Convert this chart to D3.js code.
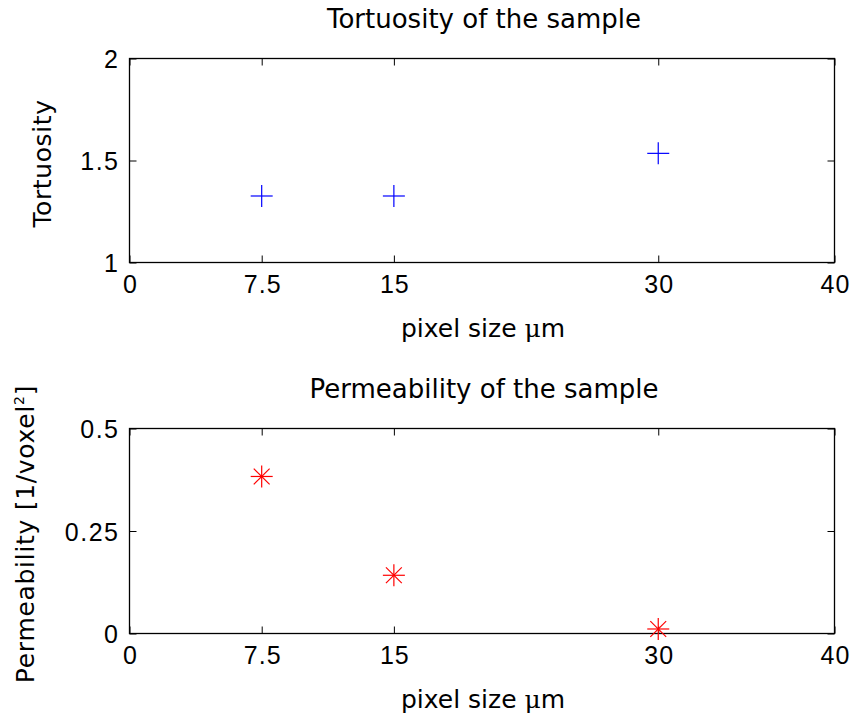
<!DOCTYPE html>
<html><head><meta charset="utf-8">
<script src="https://cdn.jsdelivr.net/npm/d3@7"></script>
<style>body{margin:0;background:#fff}svg{display:block}text{fill:#000}</style>
</head><body>
<script>
const pixelSize = [7.5, 15, 30];
const tortuosity = [1.326, 1.326, 1.535];
const permeability = [0.383, 0.142, 0.011];
const xTicks = [0, 7.5, 15, 30, 40];
const xTickLabels = ["0", "7.5", "15", "30", "40"];
const yTicksTop = [1, 1.5, 2];
const yTickLabelsTop = ["1", "1.5", "2"];
const yTicksBottom = [0, 0.25, 0.5];
const yTickLabelsBottom = ["0", "0.25", "0.5"];

const W = 853, H = 722;
const svg = d3.select("body").append("svg").attr("width", W).attr("height", H);
const font = "'Liberation Sans', Arial, sans-serif";
const titleFont = "'DejaVu Sans', sans-serif";
const tickSize = 25;
const labelSize = 25;

function panel(opts) {
  const {top, bottom, yDomain, yTicks, yLabels, ys, title, ylabel, ylabelX, marker, color} = opts;
  const left = 129.5, right = 834.5;
  const x = d3.scaleLinear().domain([0, 40]).range([left, right]);
  const y = d3.scaleLinear().domain(yDomain).range([bottom, top]);
  const g = svg.append("g");
  g.append("rect").attr("x", left).attr("y", top).attr("width", right - left).attr("height", bottom - top)
    .attr("fill", "none").attr("stroke", "#000").attr("stroke-width", 1.3);
  const xb = d3.axisBottom(x).tickValues(xTicks).tickFormat((d, i) => xTickLabels[i]).tickSizeInner(-7).tickSizeOuter(0).tickPadding(0);
  const ga = g.append("g").attr("transform", `translate(0,${bottom})`).call(xb);
  ga.select(".domain").remove();
  ga.selectAll("text").attr("font-family", font).attr("font-size", tickSize).attr("fill", "#000")
    .attr("dy", null).attr("y", 30).attr("letter-spacing", 1).attr("dx", 0.5);
  ga.selectAll("line").attr("stroke", "#000");
  const xt = d3.axisTop(x).tickValues(xTicks).tickFormat("").tickSizeInner(-7).tickSizeOuter(0);
  const gt = g.append("g").attr("transform", `translate(0,${top})`).call(xt);
  gt.select(".domain").remove(); gt.selectAll("line").attr("stroke", "#000");
  const yl = d3.axisLeft(y).tickValues(yTicks).tickFormat((d, i) => yLabels[i]).tickSizeInner(-7).tickSizeOuter(0).tickPadding(10);
  const gl = g.append("g").attr("transform", `translate(${left},0)`).call(yl);
  gl.select(".domain").remove();
  gl.selectAll("text").attr("font-family", font).attr("font-size", tickSize).attr("fill", "#000")
    .attr("dy", "0.36em").attr("letter-spacing", 1.5);
  gl.selectAll("line").attr("stroke", "#000");
  const yr = d3.axisRight(y).tickValues(yTicks).tickFormat("").tickSizeInner(-7).tickSizeOuter(0);
  const gr = g.append("g").attr("transform", `translate(${right},0)`).call(yr);
  gr.select(".domain").remove(); gr.selectAll("line").attr("stroke", "#000");
  g.append("text").attr("x", (left + right) / 2 + 2).attr("y", top - 30.5).attr("text-anchor", "middle")
    .attr("font-family", titleFont).attr("font-size", 26).text(title);
  const xlab = g.append("text").attr("x", (left + right) / 2 + 1).attr("y", bottom + 74.5).attr("text-anchor", "middle")
    .attr("font-family", titleFont).attr("font-size", labelSize);
  xlab.append("tspan").text("pixel size ");
  xlab.append("tspan").attr("font-family", "'DejaVu Serif', serif").text("μ");
  xlab.append("tspan").text("m");
  const ylab = g.append("text").attr("transform", `translate(${ylabelX},${(top + bottom) / 2 + 3}) rotate(-90)`)
    .attr("text-anchor", "middle").attr("font-family", titleFont).attr("font-size", labelSize);
  ylabel(ylab);
  const s = 11;
  pixelSize.forEach((px, i) => {
    const cx = x(px), cy = y(ys[i]);
    const mg = g.append("g").attr("stroke", color).attr("stroke-width", 1.2);
    mg.append("line").attr("x1", cx - s).attr("x2", cx + s).attr("y1", cy).attr("y2", cy);
    mg.append("line").attr("x1", cx).attr("x2", cx).attr("y1", cy - s).attr("y2", cy + s);
    if (marker === "star") {
      const d = s * 0.72;
      mg.append("line").attr("x1", cx - d).attr("x2", cx + d).attr("y1", cy - d).attr("y2", cy + d);
      mg.append("line").attr("x1", cx - d).attr("x2", cx + d).attr("y1", cy + d).attr("y2", cy - d);
    }
  });
}

panel({top: 58.5, bottom: 262.5, yDomain: [1, 2], yTicks: yTicksTop, yLabels: yTickLabelsTop,
  ys: tortuosity, title: "Tortuosity of the sample", ylabelX: 51,
  ylabel: t => t.attr("letter-spacing", 0.6).text("Tortuosity"), marker: "plus", color: "#0000ff"});
panel({top: 428.5, bottom: 633.5, yDomain: [0, 0.5], yTicks: yTicksBottom, yLabels: yTickLabelsBottom,
  ys: permeability, title: "Permeability of the sample", ylabelX: 34,
  ylabel: t => { t.attr("letter-spacing", 0.7); t.append("tspan").text("Permeability [1/voxel"); t.append("tspan").attr("font-size", 14).attr("dy", -10).text("2"); t.append("tspan").attr("dy", 10).text("]"); },
  marker: "star", color: "#ff0000"});
</script>
</body></html>
